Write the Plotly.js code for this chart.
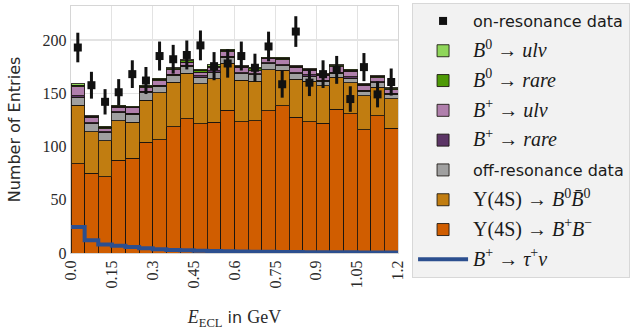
<!DOCTYPE html>
<html>
<head>
<meta charset="utf-8">
<script src="https://cdn.plot.ly/plotly-3.0.1.min.js"></script>
<style>html,body{margin:0;padding:0;background:#fff;}#chart{width:635px;height:335px;}</style>
</head>
<body>
<div id="chart"></div>
<script>
// Bin edges of E_ECL (GeV)
const binEdges = [0.00,0.05,0.10,0.15,0.20,0.25,0.30,0.35,0.40,0.45,0.50,0.55,0.60,0.65,0.70,0.75,0.80,0.85,0.90,0.95,1.00,1.05,1.10,1.15,1.20];

// Stacked MC components (entries per bin)
const bpbm   = [84,75,71.8,87,89,103.8,106.5,118.8,126.3,121.3,122.9,134,123.5,124,133.4,138.2,127.5,123.5,122,135,130.6,115.8,129,117];
const b0b0   = [54.8,38.8,33.8,37.2,33.8,39.8,43.9,41.8,42.7,37.5,40.8,44.3,38.7,37.5,38.6,33.3,35.5,38,35,30,29.4,31.7,26.7,27.8];
const offRes = [7.5,7.8,7.4,7.6,7.5,7.1,6.1,6.2,6.2,6.5,6.3,5.5,6.1,5.9,5.6,4.5,5.3,4.7,4.3,4,4.3,4.5,4.3,4.4];
const bpRare = [1.2,0.9,0.8,1.0,0.9,1.1,1.0,1.2,1.1,1.0,1.1,1.2,1.0,1.1,1.2,1.0,1.1,1.0,0.9,1.0,1.1,0.9,1.0,0.9];
const bpUlnu = [8.8,5.2,3.0,4.0,5.6,3.5,4.1,4.0,2.9,3.7,2.9,4.0,5.2,2.9,4.2,4.7,5.1,4.3,4.6,5.0,5.1,4.6,3.8,3.4];
const b0Rare = [1.4,0.7,1.3,1.2,0.6,1.2,1.5,1.1,1.4,1.5,1.5,1.4,0.9,1.7,0.5,1.2,0.9,0.9,0.9,1.1,1.1,0.9,1.0,1.0];
const b0Ulnu = [1.1,0.5,1.1,1.0,0.4,1.0,1.2,0.9,1.1,1.2,1.2,1.2,0.6,1.4,0.3,0.9,0.6,0.6,0.6,0.9,0.8,0.6,0.7,0.7];

// Signal B+ -> tau+ nu (overlaid step line)
const tauNu  = [24.5,12,8,6.8,5.6,4.4,3.5,2.9,2.5,2.1,1.8,1.6,1.4,1.2,1.1,1.0,0.9,0.8,0.7,0.7,0.6,0.5,0.5,0.4];

// On-resonance data and errors
const dataOn  = [193,157.6,142,151,168,162,185,182,186,195,175.5,178,185,174,194,158.5,208,160,168,172,144.6,174.6,149,160.6];
const dataErr = [13.9,12.6,11.9,12.3,13.0,12.7,13.6,13.5,13.6,14.0,13.2,13.3,13.6,13.2,13.9,12.6,14.4,12.6,13.0,13.1,12.0,13.2,12.2,12.7];

// Axis ticks
const xTickVals = [0,0.15,0.3,0.45,0.6,0.75,0.9,1.05,1.2];
const xTickText = ['0.0','0.15','0.3','0.45','0.6','0.75','0.9','1.05','1.2'];
const yTickVals = [0,50,100,150,200];

const centers = binEdges.slice(0,-1).map((e,i)=>(e+binEdges[i+1])/2);
const widths  = binEdges.slice(0,-1).map((e,i)=>binEdges[i+1]-e);

const M = t => '<span style="font-family:Liberation Serif;font-size:20px">' + t + '</span>';
const edge = {color:'rgba(25,20,15,0.85)', width:1};

function barTrace(y, name, color, rank){
  return {type:'bar', x:centers, y:y, width:widths, name:name, legendgroup:'g'+rank, legendrank:rank,
          marker:{color:color, line:edge}, hoverinfo:'skip'};
}

const traces = [
  {type:'scatter', mode:'lines', x:binEdges, y:tauNu.concat([tauNu[tauNu.length-1]]),
   name:M('<i>B</i><sup>+</sup> → <i>τ</i><sup>+</sup><i>ν</i>'), legendgroup:'g9', legendrank:9,
   line:{shape:'hv', color:'#2c4f8f', width:4}, hoverinfo:'skip'},
  barTrace(bpbm,   M('Υ(4S) → <i>B</i><sup>+</sup><i>B</i><sup>−</sup>'), '#d05d00', 8),
  barTrace(b0b0,   M('Υ(4S) → <i>B</i><sup>0</sup><i>B̄</i><sup>0</sup>'), '#c17d11', 7),
  barTrace(offRes, 'off-resonance data', '#a0a0a0', 6),
  barTrace(bpRare, M('<i>B</i><sup>+</sup> → <i>rare</i>'), '#5c3566', 5),
  barTrace(bpUlnu, M('<i>B</i><sup>+</sup> → <i>ulν</i>'), '#b07fac', 4),
  barTrace(b0Rare, M('<i>B</i><sup>0</sup> → <i>rare</i>'), '#4e9a06', 3),
  barTrace(b0Ulnu, M('<i>B</i><sup>0</sup> → <i>ulν</i>'), '#8fd65a', 2),
  {type:'scatter', mode:'markers', x:centers, y:dataOn, name:'on-resonance data', legendgroup:'g1', legendrank:1,
   marker:{symbol:'square', size:8, color:'#111'},
   error_y:{type:'data', array:dataErr, visible:true, thickness:3, width:0, color:'#111'},
   hoverinfo:'skip'}
];

const tickFont = {family:'Liberation Serif', size:16, color:'#2a2a2a'};
const layout = {
  width:635, height:335,
  margin:{l:71, r:237, t:3, b:82},
  paper_bgcolor:'#ffffff', plot_bgcolor:'#ffffff',
  barmode:'stack', bargap:0,
  showlegend:true,
  legend:{x:1.043, xanchor:'left', y:1.012, yanchor:'top',
          bgcolor:'#f2f2f2', bordercolor:'#d8d8d8', borderwidth:1,
          font:{family:'DejaVu Sans', size:16, color:'#1a1a1a'},
          traceorder:'grouped', tracegroupgap:6, itemwidth:50, maxheight:330},
  xaxis:{range:[0,1.2], tickvals:xTickVals, ticktext:xTickText, tickangle:-90,
         showgrid:true, gridcolor:'#e3e3e3', gridwidth:1.2, zeroline:false,
         showline:true, linecolor:'#d6d6d6', linewidth:1.2, mirror:true, ticks:'',
         tickfont:tickFont, fixedrange:true,
         title:{text:'<span style="font-family:Liberation Serif;font-size:18px"><i>E</i><sub>ECL</sub></span> in <span style="font-family:Liberation Serif;font-size:18px">GeV</span>',
                font:{family:'DejaVu Sans', size:16, color:'#2a2a2a'}, standoff:24}},
  yaxis:{range:[0,232], tickvals:yTickVals,
         showgrid:true, gridcolor:'#e3e3e3', gridwidth:1.2, zeroline:false,
         showline:true, linecolor:'#d6d6d6', linewidth:1.2, mirror:true, ticks:'',
         tickfont:tickFont, fixedrange:true,
         title:{text:'Number of Entries', font:{family:'DejaVu Sans', size:16, color:'#2a2a2a'}, standoff:18}}
};

Plotly.newPlot('chart', traces, layout, {staticPlot:true, displayModeBar:false});
</script>
</body>
</html>
